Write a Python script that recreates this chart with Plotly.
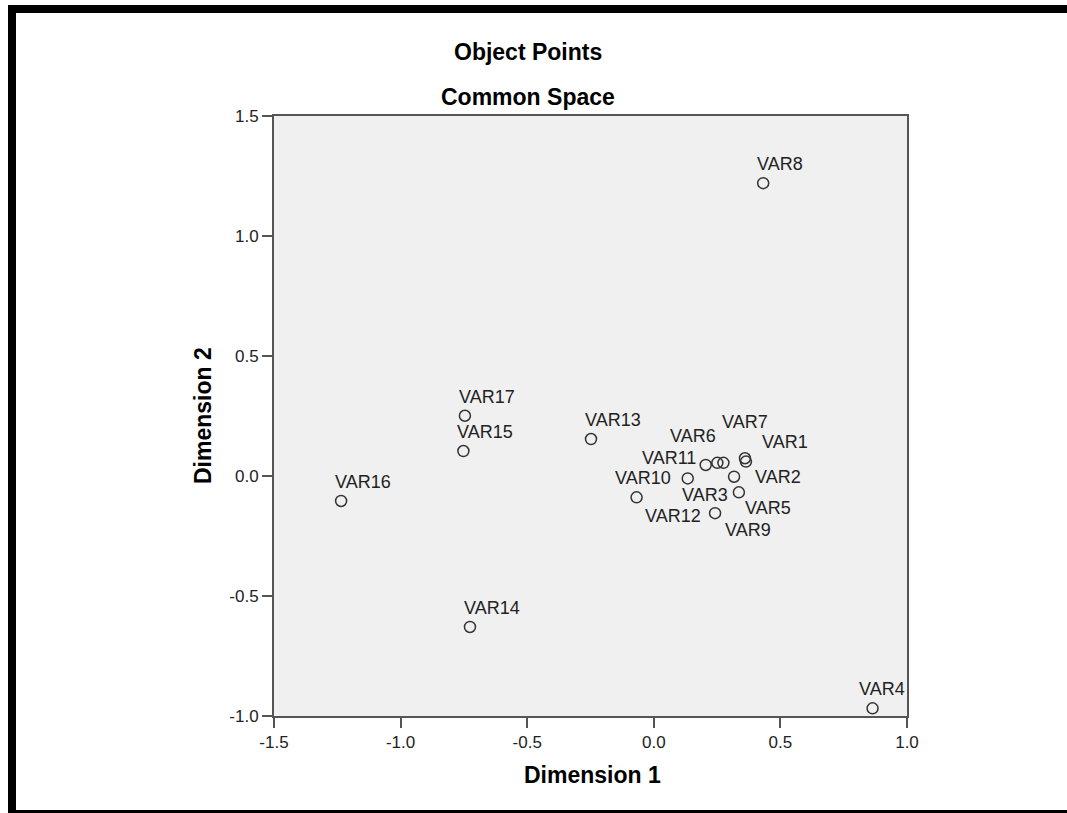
import plotly.graph_objects as go

# ---- data ----
labels = ["VAR1", "VAR2", "VAR3", "VAR4", "VAR5", "VAR6", "VAR7", "VAR8", "VAR9",
          "VAR10", "VAR11", "VAR12", "VAR13", "VAR14", "VAR15", "VAR16", "VAR17"]
dim1 = [0.360, 0.364, 0.336, 0.864, 0.317, 0.251, 0.275, 0.432, 0.242,
        -0.068, 0.205, 0.134, -0.248, -0.726, -0.752, -1.235, -0.746]
dim2 = [0.074, 0.060, -0.068, -0.968, -0.003, 0.055, 0.055, 1.220, -0.155,
        -0.089, 0.046, -0.010, 0.154, -0.629, 0.104, -0.104, 0.251]

x_tickvals = [-1.5, -1.0, -0.5, 0.0, 0.5, 1.0]
x_ticktext = ["-1.5", "-1.0", "-0.5", "0.0", "0.5", "1.0"]
y_tickvals = [-1.0, -0.5, 0.0, 0.5, 1.0, 1.5]
y_ticktext = ["-1.0", "-0.5", "0.0", "0.5", "1.0", "1.5"]

# label pixel offsets (layout only)
default_off = (-8, 19)
label_off = {
    "VAR10": (-24, 19), "VAR12": (-45, -38), "VAR11": (-66, 7), "VAR6": (-49, 27),
    "VAR7": (-3, 41), "VAR1": (15, 16), "VAR2": (7, -15), "VAR5": (9, -31),
    "VAR3": (-59, -3), "VAR9": (8, -17), "VAR4": (-16, 19),
}

FONT = "Liberation Sans, Arial, sans-serif"

fig = go.Figure()
fig.add_trace(go.Scatter(
    x=dim1, y=dim2, mode="markers",
    marker=dict(symbol="circle-open", size=11, color="#333333", line=dict(width=1.5, color="#333333")),
    hoverinfo="text", text=labels, showlegend=False,
))

annotations = []
for lab, xv, yv in zip(labels, dim1, dim2):
    dx, dy = label_off.get(lab, default_off)
    annotations.append(dict(
        x=xv, y=yv, xref="x", yref="y", text=lab, showarrow=False,
        xanchor="left", yanchor="middle", xshift=dx, yshift=dy,
        font=dict(family=FONT, size=18, color="#222222"),
    ))

L, R, T, B = 274, 907, 116, 716
pw, ph = R - L, B - T
def px(xp):
    return (xp - L) / pw
def py(yp):
    return (B - yp) / ph

annotations += [
    dict(x=px(528), y=py(52), xref="paper", yref="paper", text="<b>Object Points</b>",
         showarrow=False, xanchor="center", yanchor="middle",
         font=dict(family=FONT, size=23, color="#000000")),
    dict(x=px(528), y=py(97), xref="paper", yref="paper", text="<b>Common Space</b>",
         showarrow=False, xanchor="center", yanchor="middle",
         font=dict(family=FONT, size=23, color="#000000")),
    dict(x=px(592), y=py(775), xref="paper", yref="paper", text="<b>Dimension 1</b>",
         showarrow=False, xanchor="center", yanchor="middle",
         font=dict(family=FONT, size=23, color="#000000")),
    dict(x=px(203), y=py(416), xref="paper", yref="paper", text="<b>Dimension 2</b>",
         showarrow=False, xanchor="center", yanchor="middle", textangle=-90,
         font=dict(family=FONT, size=23, color="#000000")),
]

shapes = [dict(type="rect", xref="paper", yref="paper",
               x0=px(12), x1=px(1080), y0=py(814), y1=py(9),
               line=dict(color="#000000", width=8), fillcolor="rgba(0,0,0,0)", layer="above")]

fig.update_layout(
    width=1067, height=813,
    margin=dict(l=L, r=1067 - R, t=T, b=813 - B),
    paper_bgcolor="#FFFFFF", plot_bgcolor="#F0F0F0",
    annotations=annotations, shapes=shapes,
    font=dict(family=FONT),
)
axis_common = dict(showgrid=False, zeroline=False, showline=True, mirror=True,
                   linecolor="#555555", linewidth=2, ticks="outside", ticklen=10,
                   tickcolor="#555555", tickwidth=2,
                   tickfont=dict(family=FONT, size=17, color="#222222"))
fig.update_xaxes(range=[-1.5, 1.0], tickvals=x_tickvals, ticktext=x_ticktext, **axis_common)
fig.update_yaxes(range=[-1.0, 1.5], tickvals=y_tickvals, ticktext=y_ticktext, **axis_common)

fig.write_html("out.html", config={"displayModeBar": False},
               post_script="document.body.style.margin='0';document.body.style.overflow='hidden';")
